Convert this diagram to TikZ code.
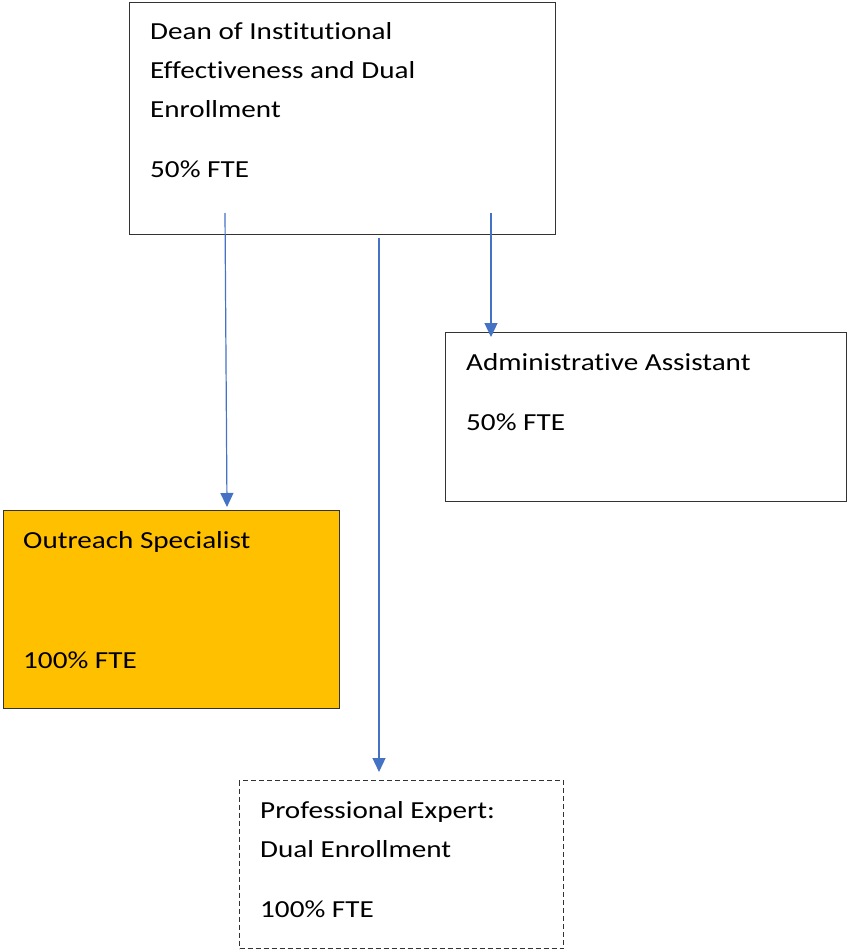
\documentclass[tikz,border=0pt]{standalone}
\usepackage{fontspec}
\setmainfont{Carlito}[FakeStretch=1.19, Ligatures=NoCommon]
\usetikzlibrary{arrows.meta}

\begin{document}
\begin{tikzpicture}[x=1pt, y=-1pt,
	every node/.style={font=\fontsize{24.5}{39}\selectfont},
	box/.style={draw=black!80, line width=1pt, rectangle, inner sep=0pt, anchor=north west},
	label/.style={anchor=base west, inner sep=0pt, text=black},
	link/.style={draw=linkblue, line width=1.2pt, -{Triangle[width=13pt, length=14pt]}}]
		% Define colors
		\definecolor{linkblue}{RGB}{68, 114, 196}
		\definecolor{outfill}{RGB}{255, 192, 0}
		
		\useasboundingbox (0, 0) rectangle (847, 952);
		
		% BOXES
		\node[box, minimum width=426pt, minimum height=232pt] (dean) at (129, 2) {};
		\node[box, minimum width=401pt, minimum height=169pt] (admin) at (445, 332) {};
		\node[box, fill=outfill, minimum width=336pt, minimum height=198pt] (outreach) at (3, 510) {};
		\node[box, dash pattern=on 5pt off 3pt, minimum width=324pt, minimum height=168pt] (expert) at (239, 780) {};
		
		% TEXTS
		% Dean
		\node[label] (deanL1) at (150, 40) {Dean of Institutional};
		\node[label] (deanL2) at (150, 79) {Effectiveness and Dual};
		\node[label] (deanL3) at (150, 118) {Enrollment};
		\node[label] (deanFte) at (150, 178) {50\% FTE};
		% Administrative Assistant
		\node[label] (adminL1) at (466, 370) {Administrative Assistant};
		\node[label] (adminFte) at (466, 430) {50\% FTE};
		% Outreach Specialist
		\node[label] (outreachL1) at (23, 548) {Outreach Specialist};
		\node[label] (outreachFte) at (23, 668) {100\% FTE};
		% Professional Expert
		\node[label] (expertL1) at (260, 818) {Professional Expert:};
		\node[label] (expertL2) at (260, 857) {Dual Enrollment};
		\node[label] (expertFte) at (260, 917) {100\% FTE};
		
		% CONNECTORS
		\coordinate (deanLeft) at (225, 213);
		\coordinate (deanMid) at (379, 238);
		\coordinate (deanRight) at (491, 213);
		\coordinate (outreachTop) at (227, 507);
		\coordinate (expertTop) at (379, 772);
		\coordinate (adminTop) at (491, 337);
		
		\draw[link] (deanLeft) -- (outreachTop);
		\draw[link] (deanMid) -- (expertTop);
		\draw[link] (deanRight) -- (adminTop);
		
	\end{tikzpicture}
\end{document}
